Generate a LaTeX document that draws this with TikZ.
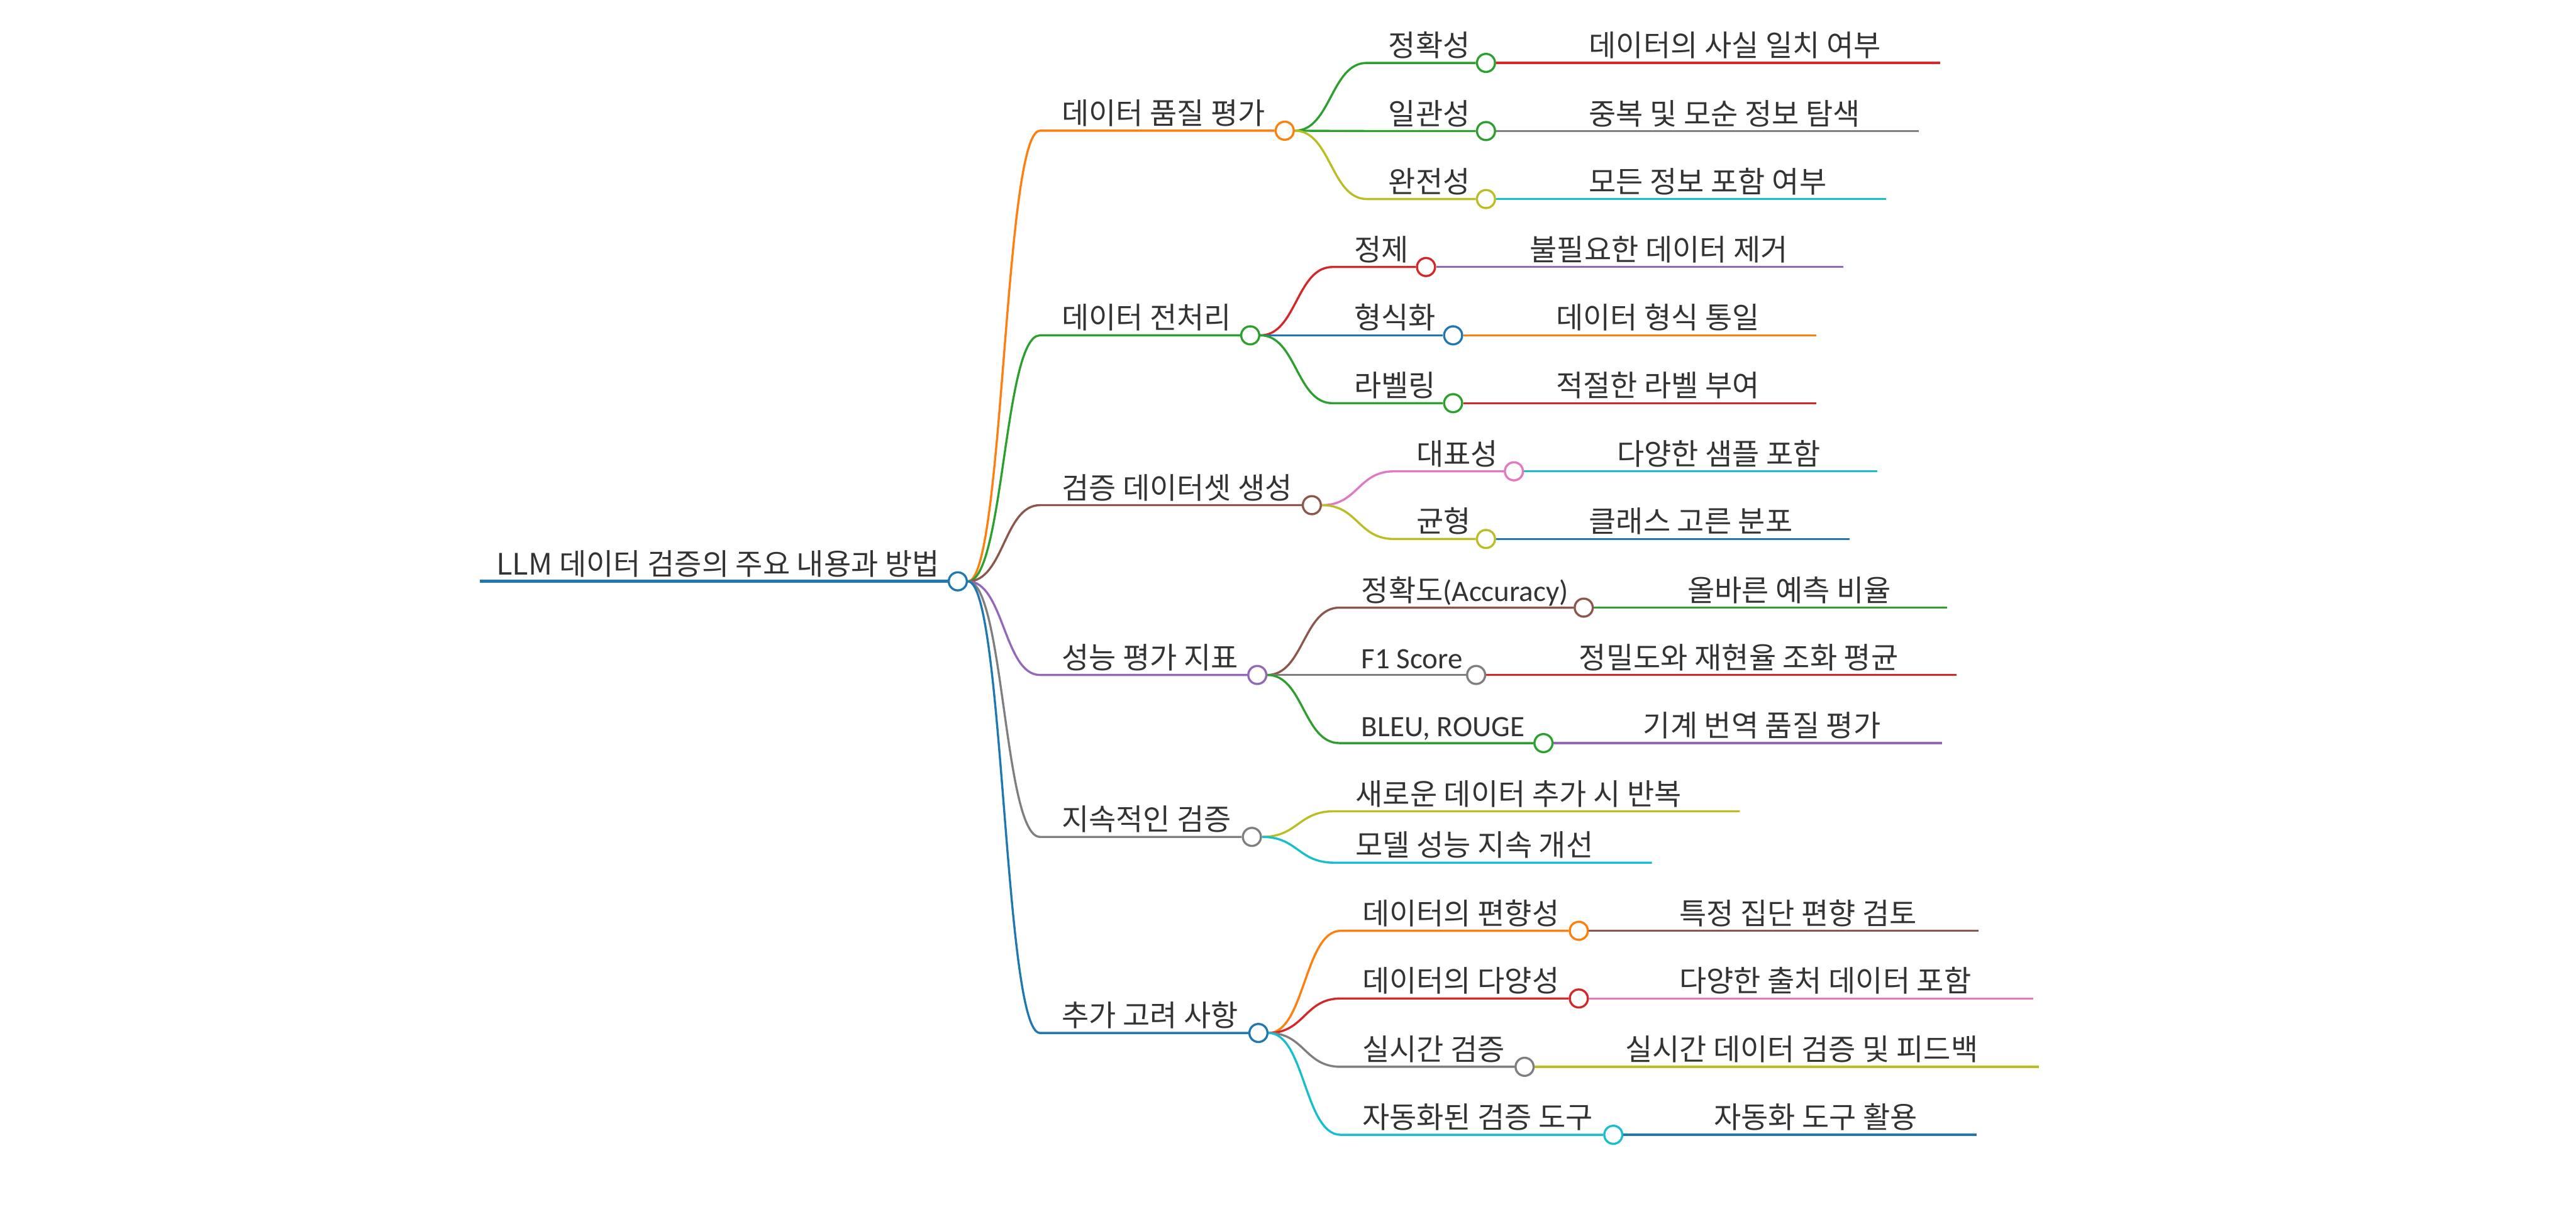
\documentclass[tikz,border=0pt]{standalone}
\usepackage{fontspec}
\setmainfont{Noto Sans CJK KR}
\newfontfamily\latf{Carlito}
\usetikzlibrary{calc}
\definecolor{cblue}{HTML}{1F77B4}
\definecolor{corange}{HTML}{FF7F0E}
\definecolor{cgreen}{HTML}{2CA02C}
\definecolor{cred}{HTML}{D62728}
\definecolor{cpurple}{HTML}{9467BD}
\definecolor{cbrown}{HTML}{8C564B}
\definecolor{cpink}{HTML}{E377C2}
\definecolor{cgray}{HTML}{7F7F7F}
\definecolor{colive}{HTML}{BCBD22}
\definecolor{ccyan}{HTML}{17BECF}
\definecolor{txt}{HTML}{333333}
\tikzset{
  lbl/.style={anchor=base west, inner sep=0pt, font=\fontsize{18}{20}\selectfont, text=txt},
  dot/.style={circle, draw=#1, fill=white, line width=1.3pt, minimum size=11pt, inner sep=0pt},
  br/.style={draw=#1, line width=1.3pt},
  link/.style={to path={.. controls ($(\tikztostart)!.5!(\tikztostart -| \tikztotarget)$) and ($(\tikztotarget)!.5!(\tikztotarget -| \tikztostart)$) .. (\tikztotarget)}},
}
\begin{document}
\begin{tikzpicture}[x=1pt,y=-1pt]
\path[use as bounding box] (0,0) rectangle (1568,745);

% ---------- circles (nodes) ----------
\node[dot=cblue] (r) at (583,354) {};
\node[dot=corange] (a1) at (782,79.6) {};
\node[dot=cgreen] (a2) at (761,204.2) {};
\node[dot=cbrown] (a3) at (798.5,307.6) {};
\node[dot=cpurple] (a4) at (765.3,411) {};
\node[dot=cgray] (a5) at (762,509.6) {};
\node[dot=cblue] (a6) at (766,629) {};

\node[dot=cgreen] (b11) at (904.5,38.3) {};
\node[dot=cgreen] (b12) at (904.5,79.8) {};
\node[dot=colive] (b13) at (904.5,121.2) {};
\node[dot=cred] (b21) at (868,162.6) {};
\node[dot=cblue] (b22) at (884.5,204.2) {};
\node[dot=cgreen] (b23) at (884.5,245.5) {};
\node[dot=cpink] (b31) at (921.5,287) {};
\node[dot=colive] (b32) at (904.5,328.2) {};
\node[dot=cbrown] (b41) at (964,370) {};
\node[dot=cgray] (b42) at (898.5,411) {};
\node[dot=cgreen] (b43) at (939.5,452.5) {};
\node[dot=corange] (b61) at (961,566.8) {};
\node[dot=cred] (b62) at (961,608) {};
\node[dot=cgray] (b63) at (928,649.6) {};
\node[dot=ccyan] (b64) at (982,691) {};

% ---------- coordinates: line starts and ends ----------
\coordinate (r0) at (292,354);
\coordinate (a1s) at (633,79.6);
\coordinate (a2s) at (633,204.2);
\coordinate (a3s) at (633,307.6);
\coordinate (a4s) at (633,411);
\coordinate (a5s) at (633,509.6);
\coordinate (a6s) at (633,629);
\coordinate (b11s) at (832,38.3);
\coordinate (b12s) at (832,79.8);
\coordinate (b13s) at (832,121.2);
\coordinate (b21s) at (811,162.6);
\coordinate (b22s) at (811,204.2);
\coordinate (b23s) at (811,245.5);
\coordinate (b31s) at (848.5,287);
\coordinate (b32s) at (848.5,328.2);
\coordinate (b41s) at (815.3,370);
\coordinate (b42s) at (815.3,411);
\coordinate (b43s) at (815.3,452.5);
\coordinate (b51s) at (812,494);
\coordinate (b52s) at (812,525.3);
\coordinate (b61s) at (816,566.8);
\coordinate (b62s) at (816,608);
\coordinate (b63s) at (816,649.6);
\coordinate (b64s) at (816,691);

\coordinate (c11e) at (1181,38.3);
\coordinate (c12e) at (1168,79.8);
\coordinate (c13e) at (1148,121.2);
\coordinate (c21e) at (1122,162.6);
\coordinate (c22e) at (1105.5,204.2);
\coordinate (c23e) at (1105.5,245.5);
\coordinate (c31e) at (1142.5,287);
\coordinate (c32e) at (1126,328.2);
\coordinate (c41e) at (1185,370);
\coordinate (c42e) at (1191,411);
\coordinate (c43e) at (1182,452.5);
\coordinate (b51e) at (1059,494);
\coordinate (b52e) at (1005.5,525.3);
\coordinate (c61e) at (1204.5,566.8);
\coordinate (c62e) at (1237.5,608);
\coordinate (c63e) at (1241,649.6);
\coordinate (c64e) at (1203,691);

% ---------- connectors ----------
\draw[br=cblue, line width=2pt] (r0) -- (r.west);

\draw[br=corange] (r.east) to[link] (a1s) -- (a1.west);
\draw[br=cgreen]  (r.east) to[link] (a2s) -- (a2.west);
\draw[br=cbrown]  (r.east) to[link] (a3s) -- (a3.west);
\draw[br=cpurple] (r.east) to[link] (a4s) -- (a4.west);
\draw[br=cgray]   (r.east) to[link] (a5s) -- (a5.west);
\draw[br=cblue]   (r.east) to[link] (a6s) -- (a6.west);

\draw[br=cgreen] (a1.east) to[link] (b11s) -- (b11.west);
\draw[br=cgreen] (a1.east) to[link] (b12s) -- (b12.west);
\draw[br=colive] (a1.east) to[link] (b13s) -- (b13.west);
\draw[br=cred]   (a2.east) to[link] (b21s) -- (b21.west);
\draw[br=cblue]  (a2.east) to[link] (b22s) -- (b22.west);
\draw[br=cgreen] (a2.east) to[link] (b23s) -- (b23.west);
\draw[br=cpink]  (a3.east) to[link] (b31s) -- (b31.west);
\draw[br=colive] (a3.east) to[link] (b32s) -- (b32.west);
\draw[br=cbrown] (a4.east) to[link] (b41s) -- (b41.west);
\draw[br=cgray]  (a4.east) to[link] (b42s) -- (b42.west);
\draw[br=cgreen] (a4.east) to[link] (b43s) -- (b43.west);
\draw[br=colive] (a5.east) to[link] (b51s) -- (b51e);
\draw[br=ccyan]  (a5.east) to[link] (b52s) -- (b52e);
\draw[br=corange] (a6.east) to[link] (b61s) -- (b61.west);
\draw[br=cred]    (a6.east) to[link] (b62s) -- (b62.west);
\draw[br=cgray]   (a6.east) to[link] (b63s) -- (b63.west);
\draw[br=ccyan]   (a6.east) to[link] (b64s) -- (b64.west);

\draw[br=cred]    (b11.east) -- (c11e);
\draw[br=cgray]   (b12.east) -- (c12e);
\draw[br=ccyan]   (b13.east) -- (c13e);
\draw[br=cpurple] (b21.east) -- (c21e);
\draw[br=corange] (b22.east) -- (c22e);
\draw[br=cred]    (b23.east) -- (c23e);
\draw[br=ccyan]   (b31.east) -- (c31e);
\draw[br=cblue]   (b32.east) -- (c32e);
\draw[br=cgreen]  (b41.east) -- (c41e);
\draw[br=cred]    (b42.east) -- (c42e);
\draw[br=cpurple] (b43.east) -- (c43e);
\draw[br=cbrown]  (b61.east) -- (c61e);
\draw[br=cpink]   (b62.east) -- (c62e);
\draw[br=colive]  (b63.east) -- (c63e);
\draw[br=cblue]   (b64.east) -- (c64e);

% ---------- labels ----------
\node[lbl] (tr) at (302,350) {LLM 데이터 검증의 주요 내용과 방법};
\node[lbl] (ta1) at (646,75.6) {데이터 품질 평가};
\node[lbl] (ta2) at (646,200.2) {데이터 전처리};
\node[lbl] (ta3) at (646,303.6) {검증 데이터셋 생성};
\node[lbl] (ta4) at (646,407) {성능 평가 지표};
\node[lbl] (ta5) at (646,505.6) {지속적인 검증};
\node[lbl] (ta6) at (646,625) {추가 고려 사항};

\node[lbl] (tb11) at (845,34.3) {정확성};
\node[lbl] (tb12) at (845,75.8) {일관성};
\node[lbl] (tb13) at (845,117.2) {완전성};
\node[lbl] (tb21) at (824,158.6) {정제};
\node[lbl] (tb22) at (824,200.2) {형식화};
\node[lbl] (tb23) at (824,241.5) {라벨링};
\node[lbl] (tb31) at (862,283) {대표성};
\node[lbl] (tb32) at (862,324.2) {균형};
\node[lbl] (tb41) at (828.5,366) {정확도{\latf(Accuracy)}};
\node[lbl] (tb42) at (828.5,407) {\latf F1 Score};
\node[lbl] (tb43) at (828.5,448.5) {\latf BLEU, ROUGE};
\node[lbl] (tb51) at (825,490) {새로운 데이터 추가 시 반복};
\node[lbl] (tb52) at (825,521.3) {모델 성능 지속 개선};
\node[lbl] (tb61) at (829,562.8) {데이터의 편향성};
\node[lbl] (tb62) at (829,604) {데이터의 다양성};
\node[lbl] (tb63) at (829,645.6) {실시간 검증};
\node[lbl] (tb64) at (829,687) {자동화된 검증 도구};

\node[lbl] (tc11) at (967,34.3) {데이터의 사실 일치 여부};
\node[lbl] (tc12) at (967,75.8) {중복 및 모순 정보 탐색};
\node[lbl] (tc13) at (967,117.2) {모든 정보 포함 여부};
\node[lbl] (tc21) at (931,158.6) {불필요한 데이터 제거};
\node[lbl] (tc22) at (947,200.2) {데이터 형식 통일};
\node[lbl] (tc23) at (947,241.5) {적절한 라벨 부여};
\node[lbl] (tc31) at (984,283) {다양한 샘플 포함};
\node[lbl] (tc32) at (967,324.2) {클래스 고른 분포};
\node[lbl] (tc41) at (1027,366) {올바른 예측 비율};
\node[lbl] (tc42) at (961,407) {정밀도와 재현율 조화 평균};
\node[lbl] (tc43) at (1000,448.5) {기계 번역 품질 평가};
\node[lbl] (tc61) at (1022,562.8) {특정 집단 편향 검토};
\node[lbl] (tc62) at (1022,604) {다양한 출처 데이터 포함};
\node[lbl] (tc63) at (989,645.6) {실시간 데이터 검증 및 피드백};
\node[lbl] (tc64) at (1043,687) {자동화 도구 활용};
\end{tikzpicture}
\end{document}
